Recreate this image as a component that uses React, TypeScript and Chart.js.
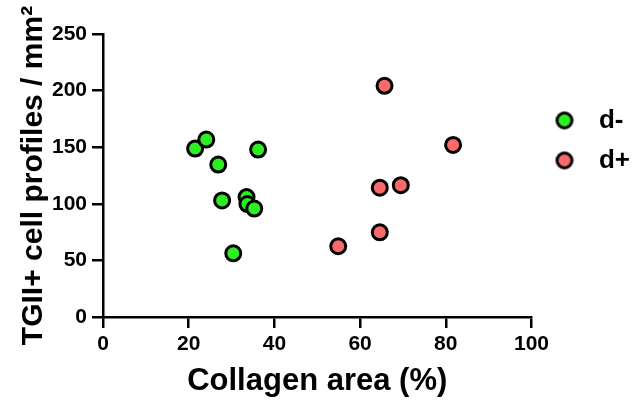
import React, { useEffect, useRef } from "react";
import { Chart, registerables } from "chart.js";

Chart.register(...registerables);

const seriesLabels = ["d-", "d+"];
const seriesColors = ["#2bef22", "#fa6a6a"];
const dMinusX = [21.5, 24.1, 26.9, 27.8, 30.4, 33.5, 33.7, 35.3, 36.2];
const dMinusY = [148.8, 156.7, 134.7, 103.0, 56.3, 105.9, 99.8, 95.8, 147.9];
const dPlusX = [54.9, 64.6, 64.6, 69.5, 65.7, 81.7];
const dPlusY = [62.5, 74.8, 114.2, 116.4, 204.2, 152.0];
const xTicks = [0, 20, 40, 60, 80, 100];
const yTicks = [0, 50, 100, 150, 200, 250];
const xTitle = "Collagen area (%)";
const yTitle = "TGII+ cell profiles / mm²";

const FONT = "'Liberation Sans', Arial, Helvetica, sans-serif";

function legendMarker(color: string): HTMLCanvasElement {
  // circle drawn shifted right inside its image so it sits further from the label start
  const off = 6;
  const c = document.createElement("canvas");
  c.width = 2 * (10 + off);
  c.height = 20;
  const g = c.getContext("2d")!;
  g.beginPath();
  g.arc(c.width / 2 + off, c.height / 2, 7.5, 0, Math.PI * 2);
  g.fillStyle = color;
  g.fill();
  g.lineWidth = 3;
  g.strokeStyle = "#000";
  g.stroke();
  return c;
}

export default function App() {
  const ref = useRef<HTMLCanvasElement | null>(null);
  useEffect(() => {
    if (!ref.current) return;
    const toPts = (xs: number[], ys: number[]) => xs.map((x, i) => ({ x, y: ys[i] }));
    const markers = seriesColors.map(legendMarker);
    const chart = new Chart(ref.current, {
      type: "scatter",
      data: {
        datasets: [
          {
            label: seriesLabels[0],
            data: toPts(dMinusX, dMinusY),
            backgroundColor: seriesColors[0],
            borderColor: "#000",
            borderWidth: 3,
            pointRadius: 7.5,
          },
          {
            label: seriesLabels[1],
            data: toPts(dPlusX, dPlusY),
            backgroundColor: seriesColors[1],
            borderColor: "#000",
            borderWidth: 3,
            pointRadius: 7.5,
          },
        ],
      },
      options: {
        animation: false,
        responsive: true,
        maintainAspectRatio: false,
        layout: { padding: { left: 16, top: 34, right: 4, bottom: 0 } },
        plugins: {
          tooltip: { enabled: false },
          legend: {
            position: "right",
            align: "start",
            title: { display: true, text: "", padding: { top: 45, bottom: 0 } },
            labels: {
              usePointStyle: true,
              padding: 14,
              color: "#000",
              font: { family: FONT, size: 26, weight: "bold" },
              generateLabels: (ch: any) => {
                const items = Chart.defaults.plugins.legend.labels.generateLabels(ch);
                return items.map((it: any, i: number) => ({
                  ...it,
                  text: "  " + it.text,
                  pointStyle: markers[i],
                }));
              },
            },
          },
        },
        scales: {
          x: {
            type: "linear",
            min: 0,
            max: 100,
            afterBuildTicks: (s: any) => {
              s.ticks = xTicks.map((v) => ({ value: v }));
            },
            afterFit: (s: any) => {
              s.height = 85;
            },
            border: { display: true, color: "#000", width: 2.5 },
            grid: {
              display: true,
              drawOnChartArea: false,
              drawTicks: true,
              tickLength: 11,
              color: "#000",
              lineWidth: 2.5,
            },
            ticks: {
              color: "#000",
              padding: 6,
              font: { family: FONT, size: 21, weight: "bold", lineHeight: 1 },
            },
            title: {
              display: true,
              text: xTitle,
              color: "#000",
              padding: { top: 0, bottom: 2 },
              font: { family: FONT, size: 31, weight: "bold" },
            },
          },
          y: {
            type: "linear",
            min: 0,
            max: 250,
            afterBuildTicks: (s: any) => {
              s.ticks = yTicks.map((v) => ({ value: v }));
            },
            afterFit: (s: any) => {
              s.width = 87;
            },
            border: { display: true, color: "#000", width: 2.5 },
            grid: {
              display: true,
              drawOnChartArea: false,
              drawTicks: true,
              tickLength: 11,
              color: "#000",
              lineWidth: 2.5,
            },
            ticks: {
              color: "#000",
              padding: 5,
              font: { family: FONT, size: 21, weight: "bold" },
            },
            title: {
              display: true,
              text: yTitle,
              color: "#000",
              padding: { top: 0, bottom: 0 },
              font: { family: FONT, size: 30, weight: "bold" },
            },
          },
        },
      },
    });
    return () => chart.destroy();
  }, []);
  return (
    <div style={{ position: "fixed", left: 0, top: 0, width: 644, height: 402, background: "#fff" }}>
      <canvas ref={ref} />
    </div>
  );
}
